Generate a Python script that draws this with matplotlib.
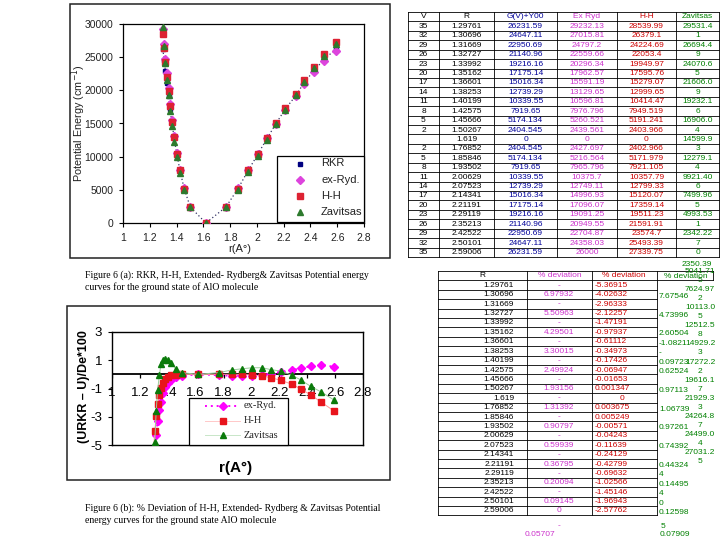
import matplotlib
matplotlib.use('Agg')
import matplotlib.pyplot as plt
from matplotlib.patches import Rectangle

plt.rcParams['font.family'] = ['Liberation Sans', 'DejaVu Sans']

# ---------------- data ----------------
v_levels = ['35', '32', '29', '26', '23', '20', '17', '14', '11', '8', '5', '2', '',
            '2', '5', '8', '11', '14', '17', '20', '23', '26', '29', '32', '35']
r_text = ['1.29761', '1.30696', '1.31669', '1.32727', '1.33992', '1.35162', '1.36601',
          '1.38253', '1.40199', '1.42575', '1.45666', '1.50267', '1.619', '1.76852',
          '1.85846', '1.93502', '2.00629', '2.07523', '2.14341', '2.21191', '2.29119',
          '2.35213', '2.42522', '2.50101', '2.59006']
g_text = ['26231.59', '24647.11', '22950.69', '21140.96', '19216.16', '17175.14', '15016.34',
          '12739.29', '10339.55', '7919.65', '5174.134', '2404.545', '0', '2404.545',
          '5174.134', '7919.65', '10339.55', '12739.29', '15016.34', '17175.14', '19216.16',
          '21140.96', '22950.69', '24647.11', '26231.59']
ex_text = ['29232.13', '27015.81', '24797.2', '22559.66', '20296.34', '17962.57', '15591.19',
           '13129.65', '10596.81', '7976.796', '5260.521', '2439.561', '0', '2427.697',
           '5216.564', '7965.796', '10375.7', '12749.11', '14996.93', '17096.07', '19091.25',
           '20949.55', '22704.87', '24358.03', '26000']
hh_text = ['28539.99', '26379.1', '24224.69', '22053.4', '19949.97', '17595.76', '15279.07',
           '12999.65', '10414.47', '7949.519', '5191.241', '2403.966', '0', '2402.966',
           '5171.979', '7921.105', '10357.79', '12799.33', '15120.07', '17359.14', '19511.23',
           '21591.91', '23574.7', '25493.39', '27339.75']
zav_cells = ['29531.4', '1', '26694.4', '9', '24070.6', '5', '21606.0', '9', '19232.1', '6',
             '16906.0', '4', '14599.9', '3', '12279.1', '4', '9921.40', '6', '7499.96', '5',
             '4993.53', '1', '2342.22', '7', '0']
zav_energy = [29531.4, 26694.4, 24070.6, 21606.0, 19232.1, 16906.0, 14599.9, 12279.1,
              9921.40, 7499.96, 4993.53, 2342.22, 0, 2350.39, 5041.71, 7750, 10140, 12540,
              14875, 17075, 19245, 21300, 23315, 25185, 27000]

r_vals = [float(s) for s in r_text]
rkr = [float(s) for s in g_text]
ex_ryd = [float(s) for s in ex_text]
hh = [float(s) for s in hh_text]

dev_ex = [-6.97932, -5.50963, -4.29501, -3.30015, -2.49924, -1.93156, -1.31392, -0.90797,
          -0.59939, -0.36795, -0.20094, -0.09145, 0, -0.054, -0.099, -0.107, -0.084, -0.023,
          0.045, 0.184, 0.29, 0.444, 0.571, 0.673, 0.54]
dev_hh_text = ['-5.36915', '-4.02632', '-2.96333', '-2.12257', '-1.47191', '-0.97937', '-0.61112',
               '-0.34973', '-0.17426', '-0.06947', '-0.01653', '0.001347', '0', '0.003675',
               '0.005249', '-0.00571', '-0.04243', '-0.11639', '-0.24129', '-0.42799',
               '-0.69632', '-1.02566', '-1.45146', '-1.96943', '-2.57762']
dev_hh = [float(s) for s in dev_hh_text]
dev_zav = [-7.68, -4.76, -2.61, -1.1, -0.05, 0.75, 1.0, 1.07, 1.0, 0.8, 0.38, 0.12, 0,
           0.13, 0.31, 0.40, 0.47, 0.47, 0.33, 0.23, -0.07, -0.38, -0.85, -1.25, -1.8]

ex_dev_cells = ['-', '6.97932', '-', '5.50963', '-', '4.29501', '-', '3.30015', '-', '2.49924',
                '-', '1.93156', '-', '1.31392', '-', '0.90797', '-', '0.59939', '-', '0.36795',
                '-', '0.20094', '-', '0.09145', '0']
zav_dev_cells = {1: '7.67546', 3: '4.73996', 5: '2.60504', 6: '-1.0821', 7: '-', 8: '0.09723',
                 9: '0.62524', 11: '0.97113', 13: '1.06739', 15: '0.97261', 17: '0.74392',
                 19: '0.44324', 20: '4', 21: '0.14495', 22: '4', 23: '0', 24: '0.12598'}
zav_overflow = ['5041.71', '5', '7624.97', '2', '10113.0', '5', '12512.5', '8', '14929.2', '3',
                '17272.2', '2', '19616.1', '7', '21929.3', '3', '24264.8', '7', '24499.0', '4',
                '27031.2', '5']

x_ticks = [1.0, 1.2, 1.4, 1.6, 1.8, 2.0, 2.2, 2.4, 2.6, 2.8]
x_tick_labels = ['1', '1.2', '1.4', '1.6', '1.8', '2', '2.2', '2.4', '2.6', '2.8']
y1_ticks = [0, 5000, 10000, 15000, 20000, 25000, 30000]
y2_ticks = [-5, -3, -1, 1, 3]

NAVY = '#000080'
MAG = '#ff00ff'
RED = '#e8141c'
GRN = '#0a7a0a'
T_BLUE = '#000099'
T_MAG = '#cc33cc'
T_RED = '#cc0000'
T_GRN = '#008000'

W, H = 720, 540
fig = plt.figure(figsize=(7.2, 5.4), dpi=100)
fig.patch.set_facecolor('white')


def px_axes(x0, y0, x1, y1):
    return [x0 / W, 1 - y1 / H, (x1 - x0) / W, (y1 - y0) / H]


bg = fig.add_axes([0, 0, 1, 1])
bg.set_xlim(0, W)
bg.set_ylim(H, 0)
bg.axis('off')

# ---------------- chart frames ----------------
bg.add_patch(Rectangle((70, 4), 320, 254, fill=False, ec='#222222', lw=1.1))
bg.add_patch(Rectangle((67, 306), 323, 174, fill=False, ec='#222222', lw=1.1))

# ---------------- chart 1 ----------------
ax1 = fig.add_axes(px_axes(123, 24, 364, 223))
ax1.set_xlim(1, 2.8)
ax1.set_ylim(0, 30000)
ax1.plot(r_vals, rkr, ls=(0, (1, 2)), color='#333366', lw=0.9, marker='s', ms=3,
         mfc=NAVY, mec=NAVY, zorder=3)
ax1.plot(r_vals, ex_ryd, ls='none', marker='D', ms=3.6, mfc='#dd44dd', mec='#dd44dd', zorder=4)
ax1.plot(r_vals, hh, ls='none', marker='s', ms=4, mfc='#dd2233', mec='#dd2233', zorder=5)
ax1.plot(r_vals, zav_energy, ls='none', marker='^', ms=4.2, mfc='#2d7a2d', mec='#2d7a2d', zorder=6)
ax1.set_xticks(x_ticks)
ax1.set_xticklabels(x_tick_labels)
ax1.set_yticks(y1_ticks)
ax1.set_yticklabels([str(t) for t in y1_ticks])
ax1.tick_params(direction='out', length=3, width=0.8, labelsize=7.5, labelcolor='#222222', pad=4)
for s in ax1.spines.values():
    s.set_linewidth(0.9)
bg.text(240, 249, 'r(A°)', ha='center', va='center', fontsize=8, color='#222222')
bg.text(79, 123, 'Potential Energy (cm$^{-1}$)', rotation=90, ha='center', va='center',
        fontsize=7.8, color='#222222')

# ---------------- chart 2 ----------------
ax2 = fig.add_axes(px_axes(112, 332, 363, 445))
ax2.set_xlim(1, 2.8)
ax2.set_ylim(-5, 3)
ax2.axhline(0, color='k', lw=1.3, zorder=1.5)
ax2.vlines(x_ticks, -0.25, 0.0, color='k', lw=0.9, zorder=1.5)
ax2.plot(r_vals, dev_ex, ls=(0, (1, 2)), color=MAG, lw=1.4, marker='D', ms=4,
         mfc=MAG, mec=MAG, zorder=3)
ax2.plot(r_vals, dev_hh, ls='-', color='#ff9a9a', lw=0.7, marker='s', ms=4.2,
         mfc=RED, mec=RED, zorder=4)
ax2.plot(r_vals, dev_zav, ls='-', color='#9acd9a', lw=0.7, marker='^', ms=5,
         mfc=GRN, mec=GRN, zorder=5)
ax2.set_xticks([])
ax2.set_yticks(y2_ticks)
ax2.set_yticklabels([str(t) for t in y2_ticks])
ax2.tick_params(axis='y', direction='out', length=3, width=0.8, labelsize=9.5, pad=4)
for s in ax2.spines.values():
    s.set_linewidth(1.0)
for xt, lab in zip(x_ticks, x_tick_labels):
    ax2.text(xt, -1.32, lab, ha='center', va='center', fontsize=9.5, zorder=2)
bg.text(236, 468, 'r(A°)', ha='center', va='center', fontsize=11, fontweight='bold')
bg.text(84, 387, '(URKR – U)/De*100', rotation=90, ha='center', va='center',
        fontsize=9, fontweight='bold')

# ---------------- overlay (legends) ----------------
fg = fig.add_axes([0, 0, 1, 1])
fg.set_xlim(0, W)
fg.set_ylim(H, 0)
fg.axis('off')

fg.add_patch(Rectangle((277, 156), 87, 66, fc='white', ec='k', lw=0.9, zorder=1))
leg1 = [('RKR', 's', NAVY, 3), ('ex-Ryd.', 'D', '#dd44dd', 3.6),
        ('H-H', 's', '#dd2233', 4), ('Zavitsas', '^', '#2d7a2d', 4.2)]
for i, (lab, mk, col, ms) in enumerate(leg1):
    yy = 163.5 + i * 16.3
    fg.plot([300], [yy], marker=mk, ms=ms, color=col, ls='none', zorder=2)
    fg.text(321, yy, lab, ha='left', va='center', fontsize=8, color='#222222', zorder=2)

fg.add_patch(Rectangle((189, 398), 99, 47, fc='white', ec='k', lw=0.9, zorder=1))
leg2 = [('ex-Ryd.', 'D', MAG, 4, (0, (1, 2)), MAG, 1.4),
        ('H-H', 's', RED, 4.2, '-', '#ffc8c8', 0.7),
        ('Zavitsas', '^', GRN, 5, '-', '#c8e6c8', 0.7)]
for i, (lab, mk, col, ms, ls, lc, lw) in enumerate(leg2):
    yy = 406 + i * 14.5
    fg.plot([205, 240], [yy, yy], ls=ls, color=lc, lw=lw, zorder=2)
    fg.plot([223], [yy], marker=mk, ms=ms, color=col, ls='none', zorder=3)
    fg.text(244, yy, lab, ha='left', va='center', fontsize=7.5,
            family=['Liberation Serif', 'DejaVu Serif'], color='#222222', zorder=3)

# ---------------- captions ----------------
SERIF = ['Liberation Serif', 'DejaVu Serif']
bg.text(85, 275, 'Figure 6 (a): RKR, H-H, Extended- Rydberg& Zavitsas Potential energy',
        ha='left', va='center', fontsize=7, family=SERIF)
bg.text(85, 287, 'curves for the ground state of AlO molecule',
        ha='left', va='center', fontsize=7, family=SERIF)
bg.text(85, 508, 'Figure 6 (b): % Deviation of H-H, Extended- Rydberg & Zavitsas Potential',
        ha='left', va='center', fontsize=7, family=SERIF)
bg.text(85, 520, 'energy curves for the ground state AlO molecule',
        ha='left', va='center', fontsize=7, family=SERIF)

# ---------------- table 1 ----------------
TF = 6
cols1 = [408, 439, 494, 557, 617, 676, 719]
top1, rh1 = 12, 9.42
n1 = len(r_text) + 1
for i in range(n1 + 1):
    bg.plot([cols1[0], cols1[-1]], [top1 + i * rh1] * 2, color='k', lw=0.6)
for c in cols1:
    bg.plot([c, c], [top1, top1 + n1 * rh1], color='k', lw=0.6)
headers1 = ['V', 'R', 'G(V)+Y00', 'Ex Ryd', 'H-H', 'Zavitsas']
hcols1 = ['k', 'k', T_BLUE, T_MAG, T_RED, T_GRN]
columns1 = [v_levels, r_text, g_text, ex_text, hh_text, zav_cells]
for j in range(6):
    xc = (cols1[j] + cols1[j + 1]) / 2
    bg.text(xc, top1 + 0.5 * rh1, headers1[j], ha='center', va='center', fontsize=TF,
            color=hcols1[j])
    for i, s in enumerate(columns1[j]):
        bg.text(xc, top1 + (i + 1.5) * rh1 + 0.3, s, ha='center', va='center', fontsize=TF,
                color=hcols1[j])
bg.text(697, 264.5, '2350.39', ha='center', va='center', fontsize=TF, color=T_GRN)

# ---------------- table 2 ----------------
cols2 = [438, 527, 592, 657, 713]
top2, rh2 = 271, 9.4
n2 = len(r_text) + 1
for i in range(n2 + 1):
    x1 = cols2[-1] if i <= 1 else cols2[3]
    bg.plot([cols2[0], x1], [top2 + i * rh2] * 2, color='k', lw=0.6)
for c in cols2[:4]:
    bg.plot([c, c], [top2, top2 + n2 * rh2], color='k', lw=0.6)
bg.plot([cols2[4], cols2[4]], [top2, top2 + rh2], color='k', lw=0.6)


def rowc(i):
    return top2 + (i + 1.5) * rh2 + 0.3


bg.text(482, top2 + 0.5 * rh2, 'R', ha='center', va='center', fontsize=TF)
bg.text(560, top2 + 0.5 * rh2, '% deviation', ha='center', va='center', fontsize=TF, color=T_MAG)
bg.text(624, top2 + 0.5 * rh2, '% deviation', ha='center', va='center', fontsize=TF, color=T_RED)
bg.text(686, top2 + 0.5 * rh2 + 1, '% deviation', ha='center', va='center', fontsize=TF, color=T_GRN)
for i, s in enumerate(r_text):
    bg.text(514, rowc(i), s, ha='right', va='center', fontsize=TF)
for i, s in enumerate(ex_dev_cells):
    bg.text(559, rowc(i), s, ha='center', va='center', fontsize=TF, color=T_MAG)
for i, s in enumerate(dev_hh_text):
    if s == '0':
        bg.text(622, rowc(i), s, ha='center', va='center', fontsize=TF, color=T_RED)
    else:
        bg.text(595, rowc(i), s, ha='left', va='center', fontsize=TF, color=T_RED)
for i, s in zav_dev_cells.items():
    bg.text(659, rowc(i) + 1.5, s, ha='left', va='center', fontsize=TF, color=T_GRN)
for k, s in enumerate(zav_overflow):
    bg.text(700, 271.5 + k * 9.05, s, ha='center', va='center', fontsize=TF, color=T_GRN)
bg.text(559, 526, '-', ha='center', va='center', fontsize=TF, color=T_MAG)
bg.text(540, 534.5, '0.05707', ha='center', va='center', fontsize=TF, color=T_MAG)
bg.text(663, 526, '5', ha='center', va='center', fontsize=TF, color=T_GRN)
bg.text(675, 534.5, '0.07909', ha='center', va='center', fontsize=TF, color=T_GRN)

fig.savefig('out.png', dpi=100)
